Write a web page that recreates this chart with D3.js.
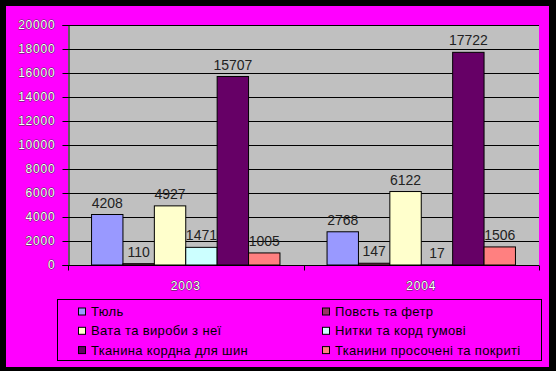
<!DOCTYPE html>
<html><head><meta charset="utf-8">
<script src="https://cdn.jsdelivr.net/npm/d3@7/dist/d3.min.js"></script>
<style>body{margin:0;background:#000}svg{display:block}</style>
</head><body>
<script>
const years = ["2003", "2004"];
const seriesNames = ["Тюль", "Повсть та фетр", "Вата та вироби з неї", "Нитки та корд гумові", "Тканина кордна для шин", "Тканини просочені та покриті"];
const seriesColors = ["#9999FF", "#993366", "#FFFFCC", "#CCFFFF", "#660066", "#FF8080"];
const values2003 = [4208, 110, 4927, 1471, 15707, 1005];
const values2004 = [2768, 147, 6122, 17, 17722, 1506];
const yTicks = [0, 2000, 4000, 6000, 8000, 10000, 12000, 14000, 16000, 18000, 20000];

const W = 556, H = 371;
const svg = d3.select("body").append("svg").attr("width", W).attr("height", H);
svg.append("rect").attr("width", W).attr("height", H).attr("fill", "#000");
svg.append("rect").attr("x", 6).attr("y", 6).attr("width", 543).attr("height", 361).attr("fill", "#FF00FF");

const L = 68, R = 539, T = 25, B = 265;
const x0 = d3.scaleBand().domain(years).range([L, R]).paddingInner(0).paddingOuter(0);
const bw = x0.bandwidth() / (seriesNames.length + 1.5);
const x1 = d3.scaleBand().domain(d3.range(seriesNames.length)).range([bw * 0.75, x0.bandwidth() - bw * 0.75]).padding(0);
const y = d3.scaleLinear().domain([0, 20000]).range([B, T]);

svg.append("rect").attr("x", L).attr("y", T).attr("width", R - L).attr("height", B - T).attr("fill", "#C0C0C0");

// gridlines
svg.append("g").selectAll("line").data(yTicks.filter(d => d > 0)).join("line")
  .attr("x1", L).attr("x2", R).attr("y1", d => Math.round(y(d)) + 0.5).attr("y2", d => Math.round(y(d)) + 0.5)
  .attr("stroke", "#000").attr("stroke-width", 1);

const data = years.map((yr, i) => ({year: yr, vals: (i === 0 ? values2003 : values2004).map((v, k) => ({v: v, k: k}))}));
const groups = svg.append("g").selectAll("g").data(data).join("g")
  .attr("transform", d => `translate(${x0(d.year)},0)`);
groups.selectAll("rect").data(d => d.vals).join("rect")
  .attr("x", d => x1(d.k)).attr("width", x1.bandwidth())
  .attr("y", d => y(d.v)).attr("height", d => B - y(d.v))
  .attr("fill", d => seriesColors[d.k]).attr("stroke", "#000").attr("stroke-width", 1);
groups.selectAll("text").data(d => d.vals).join("text")
  .attr("x", d => x1(d.k) + x1.bandwidth() / 2).attr("y", d => y(d.v) - 7)
  .attr("text-anchor", "middle").attr("font-family", "Arial, 'Liberation Sans', sans-serif")
  .attr("font-size", 14).attr("fill", "#222").text(d => String(d.v));

// axes
const yAxis = d3.axisLeft(y).tickValues(yTicks).tickSize(6).tickPadding(7).tickFormat(d3.format("d"));
const ya = svg.append("g").attr("transform", `translate(${L + 0.5},0)`).call(yAxis);
ya.select(".domain").attr("stroke", "#000");
ya.selectAll(".tick line").attr("stroke", "#000");
ya.selectAll("text").attr("font-family", "Arial, 'Liberation Sans', sans-serif").attr("font-size", 12)
  .attr("fill", "#fff").attr("stroke", "#333").attr("stroke-width", 0.8).attr("paint-order", "stroke")
  .attr("letter-spacing", 0.8);

const xa = svg.append("g").attr("transform", `translate(0,${B + 0.5})`);
xa.append("line").attr("x1", L).attr("x2", R).attr("stroke", "#000");
xa.selectAll("line.t").data([L, x0("2004"), R]).join("line").attr("class", "t")
  .attr("x1", d => Math.round(d) + 0.5).attr("x2", d => Math.round(d) + 0.5).attr("y1", 0).attr("y2", 5).attr("stroke", "#000");
xa.selectAll("text").data(years).join("text")
  .attr("x", d => x0(d) + x0.bandwidth() / 2).attr("y", 24).attr("text-anchor", "middle")
  .attr("font-family", "Arial, 'Liberation Sans', sans-serif").attr("font-size", 12)
  .attr("fill", "#fff").attr("stroke", "#333").attr("stroke-width", 0.8).attr("paint-order", "stroke")
  .attr("letter-spacing", 0.8).text(d => d);

// legend
svg.append("rect").attr("x", 57.5).attr("y", 299.5).attr("width", 484).attr("height", 61)
  .attr("fill", "none").attr("stroke", "#000");
const lg = svg.append("g").selectAll("g").data(seriesNames).join("g")
  .attr("transform", (d, i) => `translate(${i % 2 === 0 ? 78 : 322},${311.5 + Math.floor(i / 2) * 19.3})`);
lg.append("rect").attr("x", 0.5).attr("y", -3.5).attr("width", 7).attr("height", 7)
  .attr("fill", (d, i) => seriesColors[i]).attr("stroke", "#000");
lg.append("text").attr("x", 13).attr("y", 4.5).attr("font-family", "Arial, 'Liberation Sans', sans-serif")
  .attr("font-size", 13).attr("letter-spacing", 0.35).attr("fill", "#000").text(d => d);
</script>
</body></html>
